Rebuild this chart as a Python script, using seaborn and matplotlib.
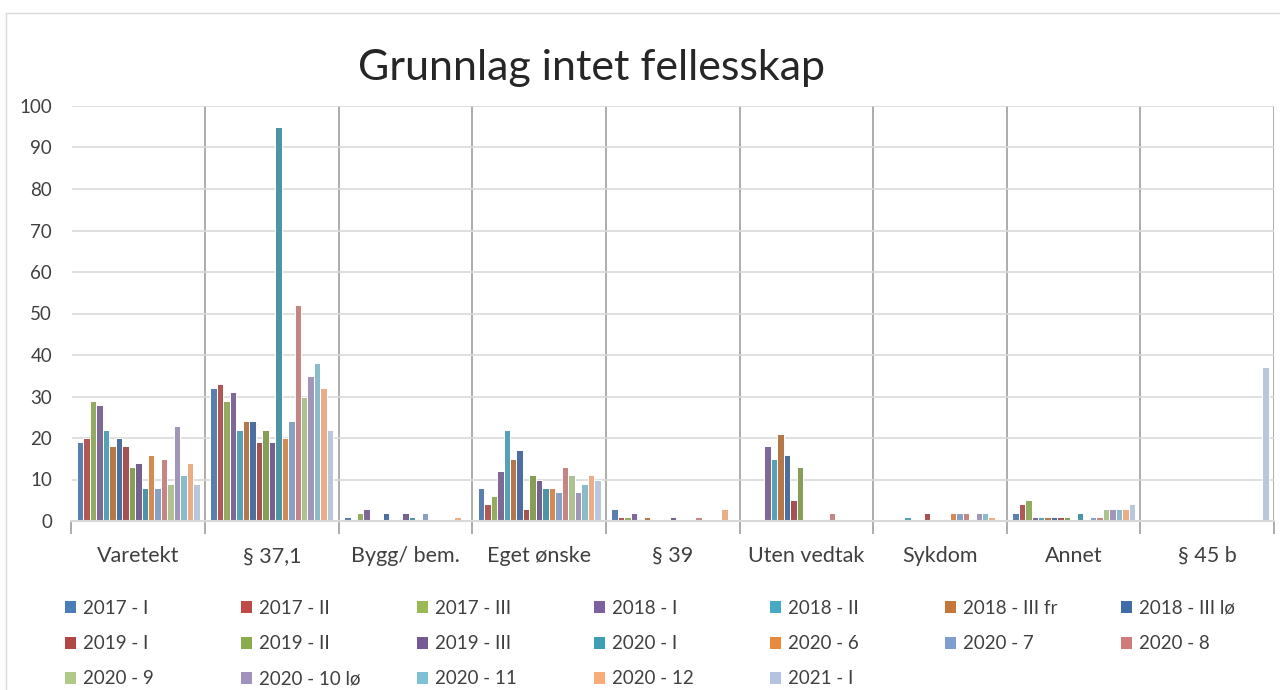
import numpy as np
import pandas as pd
import matplotlib
matplotlib.use("Agg")
import matplotlib.pyplot as plt
import seaborn as sb
from matplotlib.lines import Line2D
from matplotlib.patches import Patch


categories = ["Varetekt", "§ 37,1", "Bygg/ bem.", "Eget ønske", "§ 39",
              "Uten vedtak", "Sykdom", "Annet", "§ 45 b"]

periods = ["2017 - I", "2017 - II", "2017 - III", "2018 - I", "2018 - II",
           "2018 - III fr", "2018 - III lø", "2019 - I", "2019 - II", "2019 - III",
           "2020 - I", "2020 - 6", "2020 - 7", "2020 - 8", "2020 - 9",
           "2020 - 10 lø", "2020 - 11", "2020 - 12", "2021 - I"]

# one list per category, one value per period (same order as periods)
varetekt    = [19, 20, 29, 28, 22, 18, 20, 18, 13, 14,  8, 16,  8, 15,  9, 23, 11, 14,  9]
paragraf_37 = [32, 33, 29, 31, 22, 24, 24, 19, 22, 19, 95, 20, 24, 52, 30, 35, 38, 32, 22]
bygg_bem    = [ 1,  0,  2,  3,  0,  0,  2,  0,  0,  2,  1,  0,  2,  0,  0,  0,  0,  1,  0]
eget_onske  = [ 8,  4,  6, 12, 22, 15, 17,  3, 11, 10,  8,  8,  7, 13, 11,  7,  9, 11, 10]
paragraf_39 = [ 3,  1,  1,  2,  0,  1,  0,  0,  0,  1,  0,  0,  0,  1,  0,  0,  0,  3,  0]
uten_vedtak = [ 0,  0,  0, 18, 15, 21, 16,  5, 13,  0,  0,  0,  0,  2,  0,  0,  0,  0,  0]
sykdom      = [ 0,  0,  0,  0,  1,  0,  0,  2,  0,  0,  0,  2,  2,  2,  0,  2,  2,  1,  0]
annet       = [ 2,  4,  5,  1,  1,  1,  1,  1,  1,  0,  2,  0,  1,  1,  3,  3,  3,  3,  4]
paragraf_45 = [ 0,  0,  0,  0,  0,  0,  0,  0,  0,  0,  0,  0,  0,  0,  0,  0,  0,  0, 37]

colors = ["#4A7EBB", "#BE4B48", "#98B954", "#7D60A0", "#46AAC5",
          "#C5763A", "#3F6DAA", "#B24644", "#8AAA4C", "#735A95",
          "#3F9DB6", "#E8893E", "#7F9DCF", "#CF7B79", "#B0C988",
          "#A091BD", "#7EC0D6", "#F9AB78", "#B4C4E0"]

values = [varetekt, paragraf_37, bygg_bem, eget_onske, paragraf_39,
          uten_vedtak, sykdom, annet, paragraf_45]

rows = []
for cat, vals in zip(categories, values):
    for per, v in zip(periods, vals):
        rows.append({"kategori": cat, "periode": per, "antall": v})
df = pd.DataFrame(rows)
df = df[df["antall"] > 0]


sb.set_style("white")
plt.rcParams["font.family"] = ["Lato", "DejaVu Sans"]

fig = plt.figure(figsize=(12.8, 6.9), dpi=100)
ax = fig.add_axes([71.5/1280, 1 - 521/690, (1274 - 71.5)/1280, (521 - 106)/690])

sb.barplot(data=df, x="kategori", y="antall", hue="periode",
           order=categories, hue_order=periods, palette=colors,
           width=0.92, edgecolor="white", linewidth=0.7,
           dodge=True, legend=False, ax=ax)

ax.set_xlim(-0.5, len(categories) - 0.5)
ax.set_ylim(0, 100)
ax.set_yticks(range(0, 101, 10))
ax.set_xlabel("")
ax.set_ylabel("")

ax.yaxis.grid(True, color="#D9D9D9", linewidth=1.2)
ax.set_axisbelow(True)

ax.set_xticks(np.arange(len(categories)))
ax.set_xticklabels(categories)
ax.set_xticks(np.arange(len(categories) + 1) - 0.5, minor=True)
ax.xaxis.grid(True, which="minor", color="#A6A6A6", linewidth=1.3)
ax.tick_params(axis="x", which="major", length=0, pad=18, labelsize=15.5, labelcolor="#404040")
ax.tick_params(axis="x", which="minor", length=9, width=1.3, color="#A6A6A6", bottom=True)
ax.tick_params(axis="y", length=0, pad=14, labelsize=13.5, labelcolor="#404040")

for side in ["top", "right", "left"]:
    ax.spines[side].set_visible(False)
ax.spines["bottom"].set_color("#D9D9D9")
ax.spines["bottom"].set_linewidth(1.5)

fig.text(592/1280, 1 - 68/690, "Grunnlag intet fellesskap", ha="center", va="center",
         fontsize=31, color="#262626")

# chart area border
fig.add_artist(Line2D([6/1280, 6/1280], [0, 1 - 13/690], transform=fig.transFigure,
                      color="#D9D9D9", linewidth=1))
fig.add_artist(Line2D([6/1280, 1], [1 - 13/690, 1 - 13/690], transform=fig.transFigure,
                      color="#D9D9D9", linewidth=1))

# legend: 7 columns with even spacing, filled row by row
ncol = 7
col_x = [65, 241, 417, 594, 770, 945, 1121]
for j in range(ncol):
    idx = [r * ncol + j for r in range(3) if r * ncol + j < len(periods)]
    handles = [Patch(facecolor=colors[i], edgecolor="none") for i in idx]
    labels = [periods[i] for i in idx]
    fig.legend(handles, labels, loc="upper left",
               bbox_to_anchor=(col_x[j]/1280, 1 - 600/690),
               frameon=False, fontsize=13.5, labelcolor="#404040",
               handlelength=0.6, handleheight=0.6, handletextpad=0.35,
               labelspacing=0.97, borderpad=0, borderaxespad=0)

plt.savefig("out.png", dpi=100)
plt.close()
